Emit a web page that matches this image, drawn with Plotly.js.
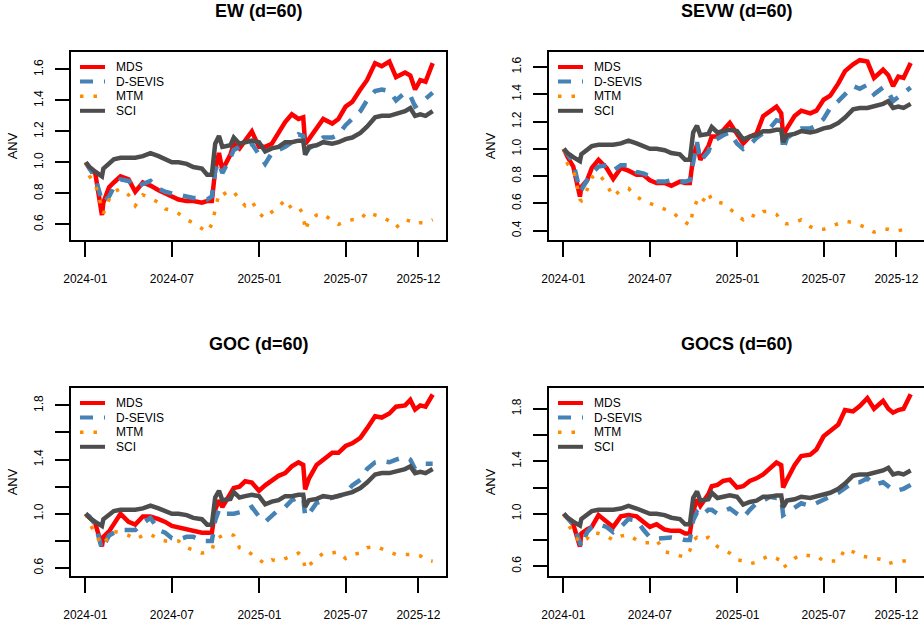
<!DOCTYPE html>
<html>
<head>
<meta charset="utf-8">
<script src="https://cdn.plot.ly/plotly-3.0.1.min.js"></script>
<style>
html,body{margin:0;padding:0;background:#ffffff;}
#chart{width:924px;height:627px;}
</style>
</head>
<body>
<div id="chart"></div>
<script>
// ---------- data ----------
const dates = ['2024-01-02','2024-01-10','2024-01-22','2024-02-05','2024-02-08','2024-02-20','2024-03-01','2024-03-15','2024-04-01','2024-04-15',
  '2024-05-01','2024-05-17','2024-06-03','2024-06-17','2024-07-01','2024-07-15','2024-08-01','2024-08-15','2024-09-02','2024-09-13',
  '2024-09-23','2024-09-30','2024-10-08','2024-10-15','2024-11-01','2024-11-08','2024-11-20','2024-12-02','2024-12-16','2024-12-31',
  '2025-01-13','2025-01-27','2025-02-10','2025-02-24','2025-03-10','2025-03-24','2025-04-03','2025-04-07','2025-04-15','2025-05-01',
  '2025-05-15','2025-06-03','2025-06-16','2025-07-01','2025-07-15','2025-08-01','2025-08-15','2025-09-01','2025-09-15','2025-10-01',
  '2025-10-15','2025-11-03','2025-11-14','2025-11-24','2025-12-05','2025-12-16','2025-12-31'];

const sci = [1.00,0.97,0.94,0.91,0.96,0.99,1.02,1.03,1.03,1.03, 1.04,1.06,1.04,1.02,1.00,1.00,0.99,0.97,0.96,0.92,
  0.92,1.12,1.17,1.10,1.11,1.16,1.12,1.13,1.14,1.13, 1.07,1.09,1.10,1.13,1.13,1.14,1.14,1.05,1.10,1.11,
  1.13,1.12,1.13,1.15,1.16,1.19,1.23,1.29,1.30,1.30, 1.31,1.33,1.35,1.30,1.31,1.30,1.33];

const ewMDS = [1.00,0.96,0.93,0.66,0.74,0.84,0.87,0.91,0.89,0.81, 0.87,0.85,0.82,0.80,0.78,0.76,0.75,0.75,0.74,0.75,
  0.75,0.95,1.06,0.95,1.05,1.12,1.09,1.14,1.20,1.10, 1.10,1.12,1.19,1.26,1.31,1.28,1.29,1.12,1.15,1.22,
  1.28,1.25,1.28,1.36,1.39,1.47,1.53,1.64,1.62,1.65, 1.55,1.58,1.56,1.47,1.53,1.52,1.64];
const ewDSEVIS = [1.00,0.96,0.90,0.75,0.74,0.78,0.84,0.89,0.88,0.84, 0.86,0.88,0.83,0.81,0.80,0.79,0.78,0.77,0.77,0.76,
  0.78,0.95,1.00,0.93,1.03,1.08,1.10,1.10,1.12,1.05, 0.99,1.06,1.08,1.10,1.13,1.18,1.17,1.05,1.09,1.12,
  1.16,1.16,1.18,1.24,1.28,1.33,1.40,1.46,1.47,1.46, 1.40,1.45,1.43,1.36,1.38,1.41,1.45];
const ewMTM = [1.00,0.91,0.86,0.70,0.67,0.76,0.81,0.83,0.79,0.72, 0.79,0.77,0.74,0.70,0.69,0.67,0.63,0.61,0.57,0.55,
  0.60,0.70,0.80,0.79,0.82,0.81,0.76,0.72,0.75,0.67, 0.64,0.68,0.71,0.76,0.70,0.71,0.67,0.56,0.62,0.66,
  0.67,0.62,0.60,0.62,0.63,0.63,0.68,0.66,0.65,0.62, 0.58,0.63,0.62,0.60,0.61,0.61,0.63];

const sevwMDS = [1.00,0.94,0.87,0.65,0.72,0.77,0.86,0.92,0.86,0.78, 0.86,0.84,0.81,0.81,0.77,0.75,0.75,0.73,0.76,0.75,
  0.75,0.94,1.03,0.92,1.02,1.09,1.09,1.14,1.19,1.11, 1.04,1.09,1.11,1.24,1.28,1.31,1.26,1.10,1.15,1.24,
  1.28,1.26,1.28,1.36,1.39,1.48,1.57,1.62,1.65,1.64, 1.52,1.58,1.54,1.46,1.53,1.52,1.63];
const sevwDSEVIS = [1.00,0.96,0.90,0.69,0.70,0.77,0.82,0.87,0.88,0.84, 0.88,0.88,0.83,0.82,0.80,0.76,0.76,0.77,0.76,0.76,
  0.77,0.92,1.05,0.91,0.98,1.05,1.08,1.10,1.12,1.04, 1.00,1.03,1.08,1.12,1.15,1.21,1.20,0.99,1.08,1.12,
  1.15,1.15,1.17,1.22,1.30,1.35,1.40,1.46,1.44,1.47, 1.40,1.45,1.42,1.35,1.38,1.41,1.45];
const sevwMTM = [1.00,0.89,0.86,0.63,0.62,0.70,0.79,0.82,0.74,0.65, 0.70,0.71,0.65,0.62,0.60,0.58,0.56,0.54,0.49,0.46,
  0.44,0.55,0.62,0.59,0.68,0.62,0.61,0.60,0.56,0.52, 0.48,0.52,0.50,0.54,0.54,0.52,0.47,0.46,0.45,0.46,
  0.48,0.43,0.41,0.41,0.43,0.45,0.47,0.46,0.44,0.42, 0.39,0.41,0.41,0.40,0.40,0.41,0.42];

const gocMDS = [1.00,0.97,0.93,0.76,0.83,0.87,0.92,1.00,0.94,0.92, 0.98,0.98,0.96,0.94,0.91,0.90,0.88,0.87,0.86,0.86,
  0.86,1.03,1.10,1.05,1.14,1.19,1.20,1.24,1.23,1.17, 1.21,1.25,1.28,1.30,1.35,1.38,1.36,1.18,1.26,1.36,
  1.40,1.45,1.45,1.50,1.52,1.56,1.63,1.72,1.71,1.74, 1.79,1.80,1.84,1.77,1.80,1.79,1.88];
const gocDSEVIS = [1.00,0.98,0.92,0.74,0.76,0.84,0.86,0.88,0.88,0.88, 0.93,0.97,0.88,0.86,0.82,0.81,0.83,0.83,0.80,0.80,
  0.80,0.95,1.03,1.00,1.00,1.00,1.01,1.02,1.05,0.98, 0.94,0.98,1.03,1.05,1.10,1.12,1.12,0.98,1.00,1.08,
  1.10,1.12,1.13,1.15,1.21,1.25,1.33,1.38,1.39,1.38, 1.40,1.42,1.40,1.33,1.35,1.37,1.37];
const gocMTM = [1.00,0.93,0.85,0.77,0.79,0.82,0.87,0.86,0.84,0.81, 0.84,0.85,0.81,0.80,0.80,0.80,0.75,0.73,0.71,0.72,
  0.73,0.81,0.83,0.84,0.85,0.84,0.75,0.74,0.70,0.66, 0.63,0.66,0.65,0.67,0.69,0.71,0.68,0.59,0.62,0.67,
  0.71,0.71,0.72,0.67,0.70,0.71,0.75,0.76,0.74,0.72, 0.70,0.70,0.70,0.70,0.69,0.66,0.65];

const gocsMDS = [1.00,0.97,0.92,0.75,0.85,0.88,0.90,0.99,0.94,0.90, 0.98,0.99,0.98,0.94,0.90,0.92,0.88,0.87,0.87,0.85,
  0.85,1.02,1.11,1.06,1.15,1.21,1.22,1.25,1.26,1.20, 1.21,1.25,1.27,1.30,1.35,1.39,1.37,1.20,1.26,1.37,
  1.44,1.45,1.49,1.59,1.63,1.68,1.79,1.78,1.82,1.88, 1.80,1.86,1.80,1.77,1.79,1.80,1.91];
const gocsDSEVIS = [1.00,0.97,0.92,0.78,0.75,0.86,0.90,0.92,0.90,0.86, 0.90,0.96,0.95,0.88,0.82,0.81,0.82,0.82,0.81,0.80,
  0.80,0.95,1.01,0.98,1.03,1.03,1.00,1.02,1.04,1.00, 0.97,1.03,1.08,1.10,1.13,1.12,1.12,0.99,1.01,1.04,
  1.08,1.06,1.08,1.10,1.13,1.16,1.20,1.24,1.24,1.27, 1.22,1.24,1.21,1.18,1.18,1.19,1.22];
const gocsMTM = [1.00,0.93,0.85,0.78,0.79,0.81,0.86,0.85,0.83,0.80, 0.83,0.84,0.80,0.78,0.78,0.80,0.71,0.70,0.68,0.67,
  0.72,0.80,0.82,0.80,0.82,0.79,0.75,0.73,0.70,0.65, 0.64,0.62,0.63,0.66,0.68,0.66,0.64,0.59,0.61,0.66,
  0.69,0.68,0.68,0.64,0.64,0.64,0.73,0.71,0.68,0.67, 0.66,0.65,0.62,0.63,0.63,0.64,0.64];

const seriesNames = ['MDS','D-SEVIS','MTM','SCI'];
const panelTitles = ['EW (d=60)','SEVW (d=60)','GOC (d=60)','GOCS (d=60)'];
const xTickVals = ['2024-01-01','2024-07-01','2025-01-01','2025-07-01','2025-12-01'];
const xTickText = ['2024-01','2024-07','2025-01','2025-07','2025-12'];
const yTicks1 = [0.6,0.8,1.0,1.2,1.4,1.6];
const yTicks2 = [0.4,0.6,0.8,1.0,1.2,1.4,1.6];
const yTicks34 = [0.6,0.8,1.0,1.2,1.4,1.6,1.8];
const yText34 = ['0.6','','1.0','','1.4','','1.8'];
const yLabel = 'ANV';

// ---------- styling / geometry ----------
const W = 924, H = 627;
const FONT = 'Liberation Sans, Arial, Helvetica, sans-serif';
const styles = [
  {color:'#FF0000', width:4.5, legendWidth:4, dash:'solid'},
  {color:'#4682B4', width:4.5, legendWidth:4, dash:'13px,11px'},
  {color:'#FF8C00', width:3.5, legendWidth:3.5, dash:'3.5px,10px'},
  {color:'#4D4D4D', width:4.5, legendWidth:4, dash:'solid'}
];
const panels = [
  {L:71,  R:446, T:52,  B:240, titleTop:0,   series:[ewMDS, ewDSEVIS, ewMTM, sci],   yr:[0.499,1.712], tv:yTicks1,  tt:yTicks1.map(v=>v.toFixed(1))},
  {L:549, R:924, T:52,  B:240, titleTop:0,   series:[sevwMDS, sevwDSEVIS, sevwMTM, sci], yr:[0.332,1.710], tv:yTicks2, tt:yTicks2.map(v=>v.toFixed(1))},
  {L:71,  R:446, T:388, B:576, titleTop:333, series:[gocMDS, gocDSEVIS, gocMTM, sci], yr:[0.541,1.928], tv:yTicks34, tt:yText34},
  {L:549, R:924, T:388, B:576, titleTop:333, series:[gocsMDS, gocsDSEVIS, gocsMTM, sci], yr:[0.526,1.958], tv:yTicks34, tt:yText34}
];
const xRange = ['2023-12-02','2026-01-28'];
const px = x => x / W;
const py = y => 1 - y / H;

const traces = [];
const layout = {
  width: W, height: H,
  margin: {l:0, r:0, t:0, b:0},
  paper_bgcolor: '#ffffff', plot_bgcolor: '#ffffff',
  showlegend: false,
  font: {family: FONT, size: 12, color: '#000000'},
  shapes: [], annotations: []
};

panels.forEach((p, k) => {
  const n = k + 1;
  const xa = n === 1 ? 'x' : 'x' + n;
  const ya = n === 1 ? 'y' : 'y' + n;
  seriesNames.forEach((name, i) => {
    traces.push({
      type: 'scatter', mode: 'lines', name: name,
      x: dates, y: p.series[i],
      xaxis: xa, yaxis: ya,
      line: {color: styles[i].color, width: styles[i].width, dash: styles[i].dash},
      hoverinfo: 'skip'
    });
  });
  layout['xaxis' + (n === 1 ? '' : n)] = {
    type: 'date', domain: [px(p.L), Math.min(1, px(p.R))], anchor: ya,
    range: xRange, tickmode: 'array', tickvals: xTickVals, ticktext: xTickText,
    ticks: 'outside', ticklen: 15, tickwidth: 2, tickcolor: '#000000',
    ticklabelstandoff: 12,
    showline: true, linewidth: 2, linecolor: '#000000', mirror: true,
    showgrid: false, zeroline: false,
    tickfont: {family: FONT, size: 12, color: '#000000'}
  };
  layout['yaxis' + (n === 1 ? '' : n)] = {
    domain: [py(p.B), py(p.T)], anchor: xa,
    range: p.yr, tickmode: 'array', tickvals: p.tv, ticktext: p.tt,
    tickangle: -90,
    ticks: 'outside', ticklen: 14, tickwidth: 2, tickcolor: '#000000',
    ticklabelstandoff: 7,
    showline: true, linewidth: 2, linecolor: '#000000', mirror: true,
    showgrid: false, zeroline: false,
    tickfont: {family: FONT, size: 12, color: '#000000'},
    title: {text: yLabel, font: {family: FONT, size: 13, color: '#000000'}, standoff: 12}
  };
  // panel title
  layout.annotations.push({
    xref: 'paper', yref: 'paper', x: px((p.L + p.R) / 2), y: py(p.titleTop),
    xanchor: 'center', yanchor: 'top', showarrow: false, borderpad: 0,
    text: '<b>' + panelTitles[k] + '</b>',
    font: {family: FONT, size: 18, color: '#000000'}
  });
  // legend (drawn inside the plot area, top-left)
  seriesNames.forEach((name, i) => {
    const yy = p.T + 15 + 14.6 * i;
    layout.shapes.push({
      type: 'line', xref: 'paper', yref: 'paper',
      x0: px(p.L + 9), x1: px(p.L + 34), y0: py(yy), y1: py(yy),
      line: {color: styles[i].color, width: styles[i].legendWidth, dash: styles[i].dash}
    });
    layout.annotations.push({
      xref: 'paper', yref: 'paper', x: px(p.L + 43), y: py(yy),
      xanchor: 'left', yanchor: 'middle', showarrow: false,
      text: name, font: {family: FONT, size: 12, color: '#000000'}
    });
  });
});

Plotly.newPlot('chart', traces, layout, {displayModeBar: false, staticPlot: true});
</script>
</body>
</html>
